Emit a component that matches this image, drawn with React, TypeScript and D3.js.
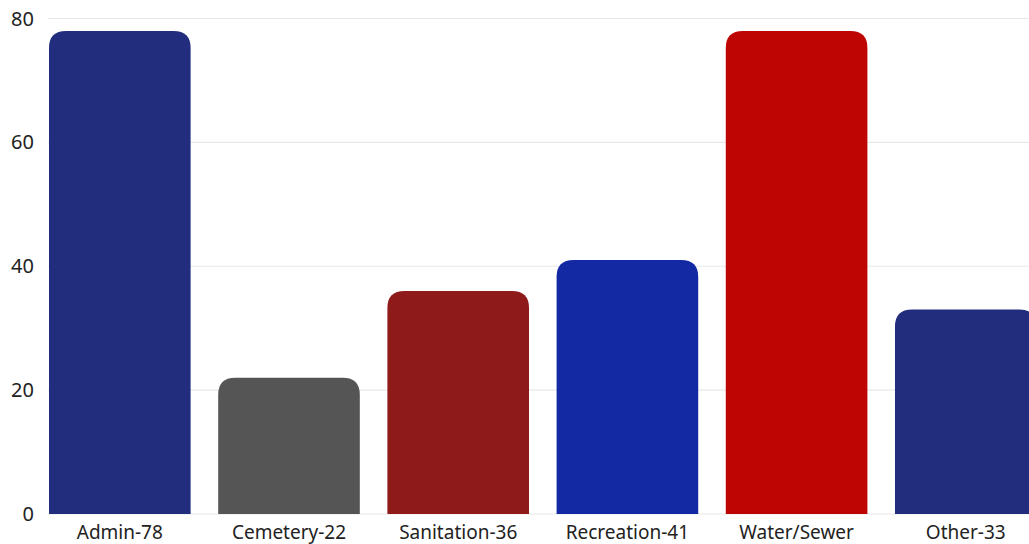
import React from "react";
import * as d3 from "d3";

const categories = ["Admin-78", "Cemetery-22", "Sanitation-36", "Recreation-41", "Water/Sewer", "Other-33"];
const values = [78, 22, 36, 41, 78, 33];
const colors = ["#222d7e", "#555555", "#8f1a1a", "#1329a3", "#bf0404", "#222d7e"];
const yTicks = [0, 20, 40, 60, 80];

const W = 1029;
const H = 544;

function topRounded(x: number, y: number, w: number, h: number, r: number) {
  const rr = Math.min(r, w / 2, h);
  return `M${x},${y + h}V${y + rr}Q${x},${y} ${x + rr},${y}H${x + w - rr}Q${x + w},${y} ${x + w},${y + rr}V${y + h}Z`;
}

export default function App() {
  const x = d3.scaleBand<string>().domain(categories).range([49, 1036.6]).paddingInner(0.163).paddingOuter(0);
  const y = d3.scaleLinear().domain([0, 80]).range([514, 18.5]);
  const font = "'Noto Sans', sans-serif";
  return (
    <svg width={W} height={H} style={{ position: "absolute", left: 0, top: 0, background: "#fff" }}>
      {yTicks.map((t) => (
        <g key={t}>
          <line x1={48} x2={W} y1={y(t)} y2={y(t)} stroke="#e8e8e8" strokeWidth={1.2} />
          <text x={34} y={y(t)} dy="0.35em" textAnchor="end" fontFamily={font} fontSize={20} fill="#222">
            {t}
          </text>
        </g>
      ))}
      {categories.map((c, i) => (
        <path
          key={c}
          d={topRounded(x(c)!, y(values[i]), x.bandwidth(), y(0) - y(values[i]), 17)}
          fill={colors[i]}
        />
      ))}
      {categories.map((c) => (
        <text
          key={c}
          x={x(c)! + x.bandwidth() / 2}
          y={532}
          dy="0.35em"
          textAnchor="middle"
          fontFamily={font}
          fontSize={19}
          fill="#222"
        >
          {c}
        </text>
      ))}
    </svg>
  );
}
